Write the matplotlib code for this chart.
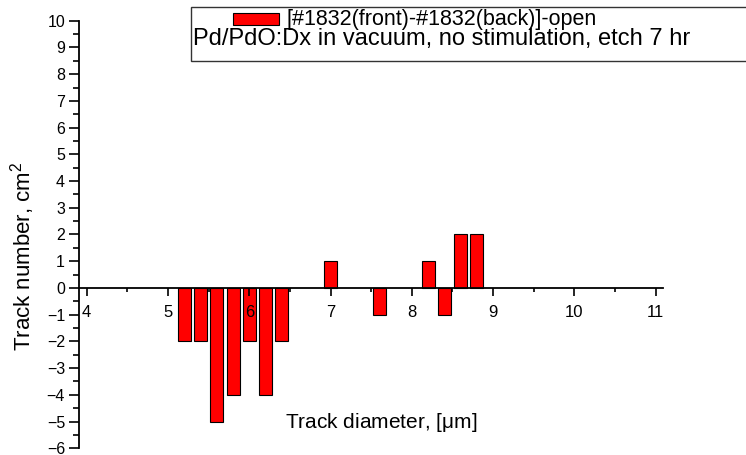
import matplotlib
matplotlib.use("Agg")
import matplotlib.pyplot as plt
from matplotlib.patches import Rectangle
from matplotlib.ticker import MultipleLocator

plt.rcParams['font.family'] = ['Liberation Sans', 'DejaVu Sans']
plt.rcParams['mathtext.fontset'] = 'custom'
plt.rcParams['mathtext.rm'] = 'Liberation Sans'
plt.rcParams['mathtext.it'] = 'Liberation Sans'

# track diameter (um) and difference in track number (front - back)
diameters = [5.2, 5.4, 5.6, 5.8, 6.0, 6.2, 6.4, 7.0, 7.6, 8.2, 8.4, 8.6, 8.8]
counts = [-2, -2, -5, -4, -2, -4, -2, 1, -1, 1, -1, 2, 2]

series_name = "[#1832(front)-#1832(back)]-open"
note = "Pd/PdO:Dx in vacuum, no stimulation, etch 7 hr"

W, H = 746, 455
fig = plt.figure(figsize=(W / 100, H / 100), dpi=100)
ax = fig.add_axes([79 / W, 1 - 448.3 / H, (663 - 79) / W, (448.3 - 20.7) / H])

ax.bar(diameters, counts, width=0.16, color='#ff0000', edgecolor='black', linewidth=0.8, zorder=1)

ax.set_xlim(3.905, 11.09)
ax.set_ylim(-6, 10)
ax.spines['top'].set_visible(False)
ax.spines['right'].set_visible(False)
ax.spines['bottom'].set_position(('data', 0))
for s in ('left', 'bottom'):
    ax.spines[s].set_linewidth(1.3)
    ax.spines[s].set_zorder(3)

ax.xaxis.set_major_locator(MultipleLocator(1))
ax.xaxis.set_minor_locator(MultipleLocator(0.5))
ax.yaxis.set_major_locator(MultipleLocator(1))
ax.yaxis.set_minor_locator(MultipleLocator(0.5))
ax.tick_params(axis='x', which='major', direction='out', length=5.5, width=1.2, pad=7, labelsize=12)
ax.tick_params(axis='x', which='minor', direction='out', length=3, width=1.2)
ax.tick_params(axis='y', which='major', direction='out', length=7, width=1.2, pad=3, labelsize=11.5)
ax.tick_params(axis='y', which='minor', direction='out', length=4.5, width=1.2)

ax.text(381 / W, 1 - 423 / H, "Track diameter, [$\\mu$m]", transform=fig.transFigure,
        ha='center', va='center', fontsize=15)
fig.text(23 / W, 1 - 256 / H, "Track number, cm$^2$", rotation=90,
         ha='center', va='center', fontsize=16)

# legend box drawn in figure pixels
fig.patches.append(Rectangle((191 / W, 1 - 61 / H), (760 - 191) / W, (61 - 6.7) / H,
                             transform=fig.transFigure, facecolor='white',
                             edgecolor='#333333', linewidth=1.0, zorder=5))
fig.patches.append(Rectangle((233 / W, 1 - 25 / H), 46 / W, 12 / H,
                             transform=fig.transFigure, facecolor='#ff0000',
                             edgecolor='black', linewidth=0.8, zorder=6))
fig.text(286 / W, 1 - 19 / H, series_name, ha='left', va='center', fontsize=15.5, zorder=6)
fig.text(193 / W, 1 - 39 / H, note, ha='left', va='center', fontsize=17, zorder=6)

fig.savefig("out.png", dpi=100)
